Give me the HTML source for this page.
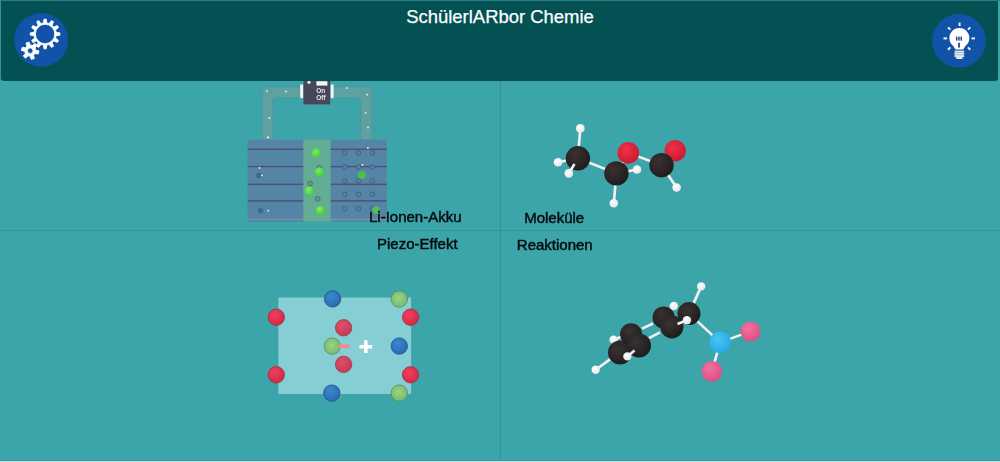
<!DOCTYPE html>
<html><head><meta charset="utf-8">
<style>
html,body{margin:0;padding:0;width:1000px;height:462px;overflow:hidden;background:#3ca5aa;font-family:"Liberation Sans",sans-serif;}
#top{position:absolute;left:0;top:0;width:1000px;height:1px;background:#2b7f82;}
#lft{position:absolute;left:0;top:0;width:1px;height:80px;background:#3a9194;}
#hdr{position:absolute;left:1px;top:1px;width:997.4px;height:79.5px;background:#035153;border-radius:0 0 3px 3px;}
#title{position:absolute;left:0;top:8.2px;width:1000px;text-align:center;color:#fff;font-size:18.45px;line-height:18.45px;-webkit-text-stroke:0.25px #fff;}
.vl{position:absolute;left:499.5px;top:80px;width:1.2px;height:382px;background:#319499;}
.hl{position:absolute;left:0;top:230px;width:1000px;height:1.2px;background:#319499;}
.lbl{position:absolute;color:#060c0e;font-size:15px;line-height:15px;white-space:nowrap;-webkit-text-stroke:0.45px #060c0e;}
svg{position:absolute;left:0;top:0;}
</style></head><body><div id="wrap" style="position:absolute;left:0;top:0;width:1000px;height:462px;filter:blur(0.35px)">
<div class="vl"></div>
<div class="hl"></div>
<div style="position:absolute;left:0;top:460px;width:1000px;height:1px;background:#2e999d"></div>
<div style="position:absolute;left:0;top:461px;width:1000px;height:1px;background:#c8e3e5"></div>
<svg width="1000" height="462" viewBox="0 0 1000 462" font-family="Liberation Sans">
<defs>
<radialGradient id="gc" cx="0.4" cy="0.35" r="0.7"><stop offset="0" stop-color="#3a3232"/><stop offset="1" stop-color="#1f1b1b"/></radialGradient>
<radialGradient id="gh" cx="0.4" cy="0.35" r="0.7"><stop offset="0" stop-color="#ffffff"/><stop offset="1" stop-color="#e4e4e4"/></radialGradient>
<radialGradient id="go" cx="0.4" cy="0.35" r="0.7"><stop offset="0" stop-color="#f0304a"/><stop offset="1" stop-color="#c81a30"/></radialGradient>
<radialGradient id="gn" cx="0.4" cy="0.35" r="0.7"><stop offset="0" stop-color="#4ac6f4"/><stop offset="1" stop-color="#26a6e2"/></radialGradient>
<radialGradient id="gp" cx="0.4" cy="0.35" r="0.7"><stop offset="0" stop-color="#f272a0"/><stop offset="1" stop-color="#dc4c84"/></radialGradient>
<radialGradient id="gg" cx="0.4" cy="0.35" r="0.7"><stop offset="0" stop-color="#78f060"/><stop offset="1" stop-color="#44d030"/></radialGradient>
<radialGradient id="pr" cx="0.4" cy="0.35" r="0.7"><stop offset="0" stop-color="#f04060"/><stop offset="1" stop-color="#d02840"/></radialGradient>
<radialGradient id="pm" cx="0.4" cy="0.35" r="0.7"><stop offset="0" stop-color="#de4e68"/><stop offset="1" stop-color="#c63a55"/></radialGradient>
<radialGradient id="pb" cx="0.4" cy="0.35" r="0.7"><stop offset="0" stop-color="#3a88d0"/><stop offset="1" stop-color="#2868b0"/></radialGradient>
<radialGradient id="pg" cx="0.45" cy="0.45" r="0.6"><stop offset="0" stop-color="#96d684"/><stop offset="1" stop-color="#76b86a"/></radialGradient>
</defs>
<path d="M262.4,140 V92.4 Q262.4,86.9 267.9,86.9 H366.5 Q372,86.9 372,92.4 V140 H360.8 V102.1 Q360.8,97.6 356.3,97.6 H277.3 Q272.8,97.6 272.8,102.1 V140Z" fill="#5fa0a0" stroke="#549492" stroke-width="0.7"/>
<rect x="247.6" y="139.6" width="139.2" height="82" fill="#5585a6"/>
<rect x="247.6" y="148.6" width="139.2" height="1.4" fill="#4f4f70"/>
<rect x="247.6" y="165.9" width="139.2" height="1.4" fill="#4f4f70"/>
<rect x="247.6" y="183.6" width="139.2" height="1.4" fill="#4f4f70"/>
<rect x="247.6" y="200.2" width="139.2" height="1.4" fill="#4f4f70"/>
<rect x="247.6" y="218.8" width="139.2" height="1.2" fill="#7890a8"/>
<rect x="303.3" y="139.6" width="27.3" height="82" fill="#62ad93"/>
<circle cx="344.6" cy="152.9" r="2.3" fill="#587ea6" stroke="#3f5f88" stroke-width="0.9"/>
<circle cx="358.5" cy="152.9" r="2.3" fill="#587ea6" stroke="#3f5f88" stroke-width="0.9"/>
<circle cx="372.5" cy="152.9" r="2.3" fill="#587ea6" stroke="#3f5f88" stroke-width="0.9"/>
<circle cx="344.6" cy="166.9" r="2.3" fill="#587ea6" stroke="#3f5f88" stroke-width="0.9"/>
<circle cx="358.5" cy="166.9" r="2.3" fill="#587ea6" stroke="#3f5f88" stroke-width="0.9"/>
<circle cx="372.5" cy="166.9" r="2.3" fill="#587ea6" stroke="#3f5f88" stroke-width="0.9"/>
<circle cx="344.6" cy="180.8" r="2.3" fill="#587ea6" stroke="#3f5f88" stroke-width="0.9"/>
<circle cx="358.5" cy="180.8" r="2.3" fill="#587ea6" stroke="#3f5f88" stroke-width="0.9"/>
<circle cx="372.5" cy="180.8" r="2.3" fill="#587ea6" stroke="#3f5f88" stroke-width="0.9"/>
<circle cx="344.6" cy="194.4" r="2.3" fill="#587ea6" stroke="#3f5f88" stroke-width="0.9"/>
<circle cx="358.5" cy="194.4" r="2.3" fill="#587ea6" stroke="#3f5f88" stroke-width="0.9"/>
<circle cx="372.5" cy="194.4" r="2.3" fill="#587ea6" stroke="#3f5f88" stroke-width="0.9"/>
<circle cx="344.6" cy="208.7" r="2.3" fill="#587ea6" stroke="#3f5f88" stroke-width="0.9"/>
<circle cx="358.5" cy="208.7" r="2.3" fill="#587ea6" stroke="#3f5f88" stroke-width="0.9"/>
<circle cx="372.5" cy="208.7" r="2.3" fill="#587ea6" stroke="#3f5f88" stroke-width="0.9"/>
<circle cx="258.9" cy="175.4" r="2.5" fill="#48688f" stroke="#3f5f88" stroke-width="0.6"/>
<circle cx="260.5" cy="210.7" r="2.5" fill="#48688f" stroke="#3f5f88" stroke-width="0.6"/>
<circle cx="319.3" cy="167.9" r="2.4" fill="#5e9a92" stroke="#4d6a74" stroke-width="0.9"/>
<circle cx="310.1" cy="183.4" r="2.4" fill="#5e9a92" stroke="#4d6a74" stroke-width="0.9"/>
<circle cx="317.7" cy="198.9" r="2.4" fill="#5e9a92" stroke="#4d6a74" stroke-width="0.9"/>
<circle cx="316.3" cy="152.9" r="4.4" fill="url(#gg)"/>
<circle cx="319.3" cy="171.8" r="4.4" fill="url(#gg)"/>
<circle cx="309.3" cy="190.8" r="4.4" fill="url(#gg)"/>
<circle cx="320.3" cy="210.3" r="4.4" fill="url(#gg)"/>
<circle cx="361.8" cy="175" r="4" fill="#4cbf4a"/>
<circle cx="376" cy="210" r="3.8" fill="#52c24e"/>
<circle cx="267.9" cy="137.4" r="0.9" fill="#e8f4f4"/>
<circle cx="367.9" cy="148" r="0.9" fill="#e8f4f4"/>
<circle cx="362.5" cy="164.9" r="0.9" fill="#e8f4f4"/>
<circle cx="261.9" cy="175.4" r="0.9" fill="#e8f4f4"/>
<circle cx="268.3" cy="210.7" r="0.9" fill="#e8f4f4"/>
<circle cx="259.5" cy="167.9" r="0.9" fill="#e8f4f4"/>
<circle cx="266.9" cy="91.2" r="0.9" fill="#e8f4f4"/>
<circle cx="286" cy="91.5" r="0.9" fill="#e8f4f4"/>
<circle cx="346.9" cy="88" r="0.9" fill="#e8f4f4"/>
<circle cx="367.2" cy="94.7" r="0.9" fill="#e8f4f4"/>
<circle cx="269.3" cy="118" r="0.9" fill="#e8f4f4"/>
<circle cx="365.6" cy="112.8" r="0.9" fill="#e8f4f4"/>
<circle cx="368" cy="127.5" r="0.9" fill="#e8f4f4"/>
<circle cx="268" cy="137.3" r="0.9" fill="#e8f4f4"/>
<rect x="300.2" y="84.5" width="3" height="13.6" fill="#f4f4f4"/>
<rect x="330.6" y="84.5" width="3" height="13.6" fill="#f4f4f4"/>
<rect x="303.5" y="78" width="26.7" height="26.4" fill="#47475c"/>
<rect x="316.4" y="81.2" width="11" height="4.4" fill="#f4f4f4"/>
<circle cx="309" cy="82.3" r="1.6" fill="#f4f4f4"/>
<text x="316.2" y="93.3" font-size="6.5" fill="#e6e6ea" font-weight="bold">On</text>
<text x="316.2" y="100.2" font-size="6.5" fill="#e6e6ea" font-weight="bold">Off</text>
<line x1="577.9" y1="158.3" x2="580.3" y2="128.4" stroke="#f2f2f2" stroke-width="2.6"/>
<line x1="577.9" y1="158.3" x2="558" y2="162.2" stroke="#f2f2f2" stroke-width="2.6"/>
<line x1="577.9" y1="158.3" x2="568.8" y2="173.4" stroke="#f2f2f2" stroke-width="2.6"/>
<line x1="577.9" y1="158.3" x2="616.4" y2="173.4" stroke="#f2f2f2" stroke-width="2.6"/>
<line x1="616.4" y1="173.4" x2="628.3" y2="152.9" stroke="#f2f2f2" stroke-width="2.6"/>
<line x1="628.3" y1="152.9" x2="661.5" y2="165.2" stroke="#f2f2f2" stroke-width="2.6"/>
<line x1="661.5" y1="165.2" x2="674.9" y2="149.6" stroke="#f2f2f2" stroke-width="2.6"/>
<line x1="616.4" y1="173.4" x2="637" y2="169.5" stroke="#f2f2f2" stroke-width="2.6"/>
<line x1="616.4" y1="173.4" x2="613.8" y2="203.3" stroke="#f2f2f2" stroke-width="2.6"/>
<line x1="661.5" y1="165.2" x2="676.6" y2="187.5" stroke="#f2f2f2" stroke-width="2.6"/>
<circle cx="580.3" cy="128.4" r="4.4" fill="url(#gh)"/>
<circle cx="558" cy="162.2" r="4.3" fill="url(#gh)"/>
<circle cx="577.9" cy="158.3" r="12.2" fill="url(#gc)"/>
<line x1="568.8" y1="173.4" x2="574.5" y2="164" stroke="#f2f2f2" stroke-width="2.6"/>
<circle cx="568.8" cy="173.4" r="4.3" fill="url(#gh)"/>
<circle cx="628.3" cy="152.9" r="10.8" fill="url(#go)"/>
<circle cx="616.4" cy="173.4" r="12.2" fill="url(#gc)"/>
<circle cx="637" cy="169.5" r="4.3" fill="url(#gh)"/>
<circle cx="675.2" cy="150.8" r="10.7" fill="url(#go)"/>
<circle cx="661.5" cy="165.2" r="12.2" fill="url(#gc)"/>
<circle cx="613.8" cy="203.3" r="4.3" fill="url(#gh)"/>
<circle cx="676.6" cy="187.5" r="4.3" fill="url(#gh)"/>
<rect x="278.3" y="297.5" width="132.8" height="96.5" fill="#8fd4da" fill-opacity="0.88"/>
<circle cx="332.6" cy="298.9" r="8.2" fill="url(#pb)" stroke="#24528a" stroke-width="0.8"/>
<circle cx="399.3" cy="299.1" r="8.2" fill="url(#pg)" stroke="#5a8a62" stroke-width="0.8"/>
<circle cx="276.3" cy="317.2" r="8.2" fill="url(#pr)" stroke="#a82a44" stroke-width="0.8"/>
<circle cx="410.6" cy="317.2" r="8.2" fill="url(#pr)" stroke="#a82a44" stroke-width="0.8"/>
<circle cx="343.6" cy="327.8" r="8.2" fill="url(#pm)" stroke="#a0384e" stroke-width="0.8"/>
<circle cx="332.3" cy="346.1" r="8.2" fill="url(#pg)" stroke="#5a8a62" stroke-width="0.8"/>
<circle cx="399.3" cy="346.1" r="8.2" fill="url(#pb)" stroke="#24528a" stroke-width="0.8"/>
<circle cx="343.6" cy="364.4" r="8.2" fill="url(#pm)" stroke="#a0384e" stroke-width="0.8"/>
<circle cx="276.3" cy="374.8" r="8.2" fill="url(#pr)" stroke="#a82a44" stroke-width="0.8"/>
<circle cx="410.6" cy="374.8" r="8.2" fill="url(#pr)" stroke="#a82a44" stroke-width="0.8"/>
<circle cx="331.8" cy="393.1" r="8.2" fill="url(#pb)" stroke="#24528a" stroke-width="0.8"/>
<circle cx="399.3" cy="393.1" r="8.2" fill="url(#pg)" stroke="#5a8a62" stroke-width="0.8"/>
<rect x="338.6" y="344.4" width="11.2" height="3.7" fill="#f08a90"/>
<path d="M364,340.3 h3.6 v4.6 h4.6 v3.6 h-4.6 v4.6 h-3.6 v-4.6 h-4.6 v-3.6 h4.6z" fill="#fff"/>
<line x1="689" y1="313.6" x2="701.2" y2="286.4" stroke="#f2f2f2" stroke-width="2.6"/>
<line x1="689" y1="313.6" x2="720.2" y2="342.4" stroke="#f2f2f2" stroke-width="2.6"/>
<line x1="720.2" y1="342.4" x2="750.5" y2="331.4" stroke="#f2f2f2" stroke-width="2.6"/>
<line x1="720.2" y1="342.4" x2="711.9" y2="371.4" stroke="#f2f2f2" stroke-width="2.6"/>
<line x1="619.5" y1="352.4" x2="595.7" y2="369.8" stroke="#f2f2f2" stroke-width="2.6"/>
<line x1="663.6" y1="317.4" x2="673.8" y2="306" stroke="#f2f2f2" stroke-width="2.6"/>
<line x1="630.2" y1="333.3" x2="613.6" y2="339.8" stroke="#f2f2f2" stroke-width="2.6"/>
<line x1="642" y1="328.6" x2="653" y2="323.5" stroke="#f2f2f2" stroke-width="2.6"/>
<line x1="649" y1="338.1" x2="660" y2="332.3" stroke="#f2f2f2" stroke-width="2.6"/>
<circle cx="673.8" cy="306" r="4.2" fill="url(#gh)"/>
<circle cx="613.6" cy="339.8" r="4.2" fill="url(#gh)"/>
<circle cx="631" cy="334.3" r="11" fill="url(#gc)"/>
<circle cx="620" cy="352.6" r="12" fill="url(#gc)"/>
<circle cx="639" cy="345.5" r="12" fill="url(#gc)"/>
<line x1="634.5" y1="350.5" x2="627.4" y2="356.4" stroke="#f2f2f2" stroke-width="2.6"/>
<circle cx="627.4" cy="356.4" r="4.2" fill="url(#gh)"/>
<circle cx="663.6" cy="317.4" r="11" fill="url(#gc)"/>
<circle cx="689" cy="313.6" r="11.5" fill="url(#gc)"/>
<circle cx="671.9" cy="326.9" r="11.5" fill="url(#gc)"/>
<line x1="677.5" y1="324" x2="686.9" y2="320.2" stroke="#f2f2f2" stroke-width="2.6"/>
<circle cx="686.9" cy="320.2" r="4.2" fill="url(#gh)"/>
<circle cx="701.2" cy="286.4" r="4.2" fill="url(#gh)"/>
<circle cx="595.7" cy="369.8" r="4.2" fill="url(#gh)"/>
<circle cx="720.2" cy="342.4" r="10.8" fill="url(#gn)"/>
<circle cx="750.5" cy="331.4" r="10" fill="url(#gp)"/>
<circle cx="711.9" cy="371.4" r="10.3" fill="url(#gp)"/>
</svg>
<div id="top"></div>
<div id="lft"></div>
<div id="hdr"></div>
<div id="title">SchülerlARbor Chemie</div>
<svg width="1000" height="462" viewBox="0 0 1000 462">
<circle cx="41" cy="40" r="26.9" fill="#1153a8"/>
<path id="g1" fill="#fff" stroke="#fff" stroke-width="0.8" stroke-linejoin="round" fill-rule="evenodd" d="M43.35,22.94 L43.93,19.15 L46.27,19.15 L46.85,22.94 L49.11,23.54 L51.51,20.55 L53.54,21.72 L52.15,25.30 L53.80,26.95 L57.38,25.56 L58.55,27.59 L55.56,29.99 L56.16,32.25 L59.95,32.83 L59.95,35.17 L56.16,35.75 L55.56,38.01 L58.55,40.41 L57.38,42.44 L53.80,41.05 L52.15,42.70 L53.54,46.28 L51.51,47.45 L49.11,44.46 L46.85,45.06 L46.27,48.85 L43.93,48.85 L43.35,45.06 L41.09,44.46 L38.69,47.45 L36.66,46.28 L38.05,42.70 L36.40,41.05 L32.82,42.44 L31.65,40.41 L34.64,38.01 L34.04,35.75 L30.25,35.17 L30.25,32.83 L34.04,32.25 L34.64,29.99 L31.65,27.59 L32.82,25.56 L36.40,26.95 L38.05,25.30 L36.66,21.72 L38.69,20.55 L41.09,23.54Z M54.80,34.00 A9.7,9.7 0 1,0 35.40,34.00 A9.7,9.7 0 1,0 54.80,34.00Z"/>
<path id="g2" fill="#fff" stroke="#fff" stroke-width="0.8" stroke-linejoin="round" fill-rule="evenodd" d="M26.86,46.20 L25.96,42.99 L29.10,41.97 L30.26,45.10 L32.42,45.56 L34.76,43.17 L37.21,45.38 L35.08,47.95 L35.76,50.06 L39.00,50.88 L38.31,54.11 L35.02,53.55 L33.54,55.20 L34.44,58.41 L31.30,59.43 L30.14,56.30 L27.98,55.84 L25.64,58.23 L23.19,56.02 L25.32,53.45 L24.64,51.34 L21.40,50.52 L22.09,47.29 L25.38,47.85Z M33.00,50.70 A2.8,2.8 0 1,0 27.40,50.70 A2.8,2.8 0 1,0 33.00,50.70Z"/>
<circle cx="959" cy="40.7" r="26.8" fill="#1153a8"/>
<g fill="#fff">
<path d="M953.3,46 A10,10 0 1,1 965.4,46 L963.2,49.6 L955.5,49.6 Z"/>
<rect x="954.6" y="50.6" width="9.5" height="6.6" fill="#dfe6ee"/>
<rect x="956.3" y="57" width="6.1" height="2" fill="#dfe6ee"/>
</g>
<g fill="#9fb0c8"><rect x="954.6" y="52.2" width="9.5" height="0.8"/><rect x="954.6" y="54.4" width="9.5" height="0.8"/></g>
<g fill="#1d4a88"><rect x="955.9" y="36.6" width="1.5" height="4"/><rect x="958.2" y="36.6" width="1.5" height="4"/><rect x="960.5" y="36.6" width="1.5" height="4"/><rect x="958.1" y="42.8" width="1.8" height="4.8"/></g>
<g stroke="#f4f8ff" stroke-width="1.9" stroke-linecap="butt">
<line x1="959.6" y1="22.6" x2="959.6" y2="26"/>
<line x1="943.5" y1="38.4" x2="947" y2="38.4"/>
<line x1="971.5" y1="38.4" x2="975" y2="38.4"/>
<line x1="948" y1="27.3" x2="950.4" y2="29.7"/>
<line x1="967.9" y1="29.7" x2="970.3" y2="27.3"/>
<line x1="948" y1="49.7" x2="950.4" y2="47.4"/>
<line x1="967.9" y1="47.4" x2="970.3" y2="49.7"/>
</g>
</svg>
<div class="lbl" style="left:369px;top:209.2px">Li-Ionen-Akku</div>
<div class="lbl" style="left:524.2px;top:209.5px">Moleküle</div>
<div class="lbl" style="left:377px;top:236.2px">Piezo-Effekt</div>
<div class="lbl" style="left:516.8px;top:236.5px">Reaktionen</div>
</div></body></html>
